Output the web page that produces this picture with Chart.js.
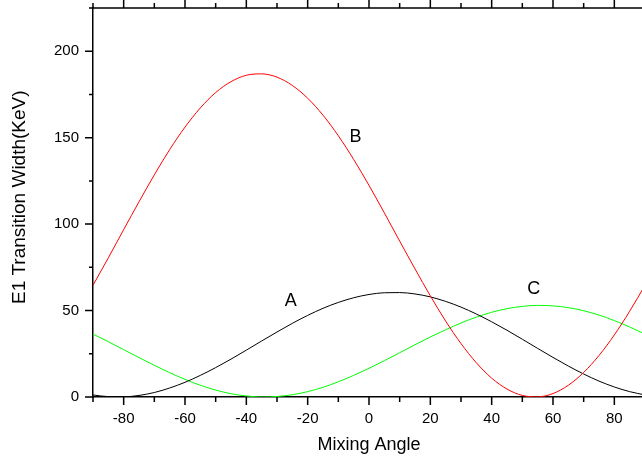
<!DOCTYPE html>
<html>
<head>
<meta charset="utf-8">
<script src="https://cdn.jsdelivr.net/npm/chart.js@4"></script>
<style>
  body { margin: 0; background: #fff; }
  #wrap { width: 642px; height: 456px; overflow: hidden; }
</style>
</head>
<body>
<div id="wrap"><canvas id="grafico" width="660" height="456"></canvas></div>
<script>
// angulos de mezcla (grados)
const angulos = [-90, -85, -80, -75, -70, -65, -60, -55, -50, -45, -40, -35, -30, -25, -20, -15, -10, -5, 0,
  5, 10, 15, 20, 25, 30, 35, 40, 45, 50, 55, 60, 65, 70, 75, 80, 85, 90];

// anchuras de transicion E1 (KeV)
const serieA = [1.2, 0.2, 0.1, 0.9, 2.6, 5.2, 8.5, 12.5, 17.0, 21.9, 27.1, 32.4, 37.6, 42.6, 47.2, 51.3, 54.7,
  57.4, 59.3, 60.3, 60.4, 59.6, 57.9, 55.3, 52.0, 48.0, 43.5, 38.6, 33.4, 28.1, 22.9, 17.9, 13.3, 9.2, 5.8, 3.1, 1.2];
const serieB = [64.6, 80.5, 96.8, 112.9, 128.5, 143.1, 156.1, 167.2, 176.1, 182.4, 186.1, 186.9, 185.0, 180.2,
  172.8, 163.0, 151.1, 137.4, 122.4, 106.5, 90.2, 74.1, 58.5, 43.9, 30.9, 19.8, 10.9, 4.6, 0.9, 0.1, 2.0, 6.8,
  14.2, 24.0, 35.9, 49.6, 64.6];
const serieC = [36.4, 32.0, 27.4, 22.8, 18.3, 14.1, 10.2, 6.8, 4.0, 1.9, 0.6, 0.0, 0.3, 1.3, 3.1, 5.6, 8.8, 12.5,
  16.6, 21.0, 25.6, 30.2, 34.7, 38.9, 42.8, 46.2, 49.0, 51.1, 52.4, 53.0, 52.7, 51.7, 49.9, 47.4, 44.2, 40.5, 36.4];

// etiquetas de curva: texto y posicion en datos
const etiquetas = ["A", "B", "C"];
const etiquetasX = [-25.5, -4.4, 53.7];
const etiquetasY = [55.3, 150.2, 62.5];

const fuente = "'Liberation Sans', Arial, sans-serif";

function puntos(serie) {
  return angulos.map((a, i) => ({ x: a, y: serie[i] }));
}

function linea(serie, color) {
  return {
    data: puntos(serie),
    borderColor: color,
    borderWidth: 1,
    pointRadius: 0,
    fill: false,
    cubicInterpolationMode: "monotone"
  };
}

// marcas de los ejes (mayores y menores) y eje superior
const marcasPlugin = {
  id: "marcas",
  afterDraw(chart) {
    const ctx = chart.ctx;
    const area = chart.chartArea;
    const x = chart.scales.x;
    const y = chart.scales.y;
    ctx.save();
    ctx.strokeStyle = "#000";
    ctx.lineWidth = 1.5;
    ctx.beginPath();
    ctx.moveTo(area.left, area.top);
    ctx.lineTo(area.right + 2, area.top);
    x.ticks.forEach(t => {
      const px = x.getPixelForValue(t.value);
      const largo = t.value % 20 === 0 ? 8 : 5;
      ctx.moveTo(px, area.bottom);
      ctx.lineTo(px, area.bottom + largo);
      ctx.moveTo(px, area.top);
      ctx.lineTo(px, area.top - largo);
    });
    y.ticks.forEach(t => {
      const py = y.getPixelForValue(t.value);
      const largo = t.value % 50 === 0 ? 8 : 4;
      ctx.moveTo(area.left, py);
      ctx.lineTo(area.left - largo, py);
    });
    ctx.stroke();

    ctx.fillStyle = "#000";
    ctx.font = "18px " + fuente;
    ctx.textAlign = "center";
    ctx.textBaseline = "middle";
    etiquetas.forEach((txt, i) => {
      ctx.fillText(txt, x.getPixelForValue(etiquetasX[i]), y.getPixelForValue(etiquetasY[i]));
    });
    ctx.restore();
  }
};

new Chart(document.getElementById("grafico"), {
  type: "line",
  data: {
    datasets: [
      linea(serieB, "#ff0000"),
      linea(serieA, "#000000"),
      linea(serieC, "#00ff00")
    ]
  },
  options: {
    responsive: false,
    animation: false,
    devicePixelRatio: 1,
    layout: { padding: { top: 8, right: 15, left: 0, bottom: 0 } },
    plugins: { legend: { display: false }, tooltip: { enabled: false } },
    scales: {
      x: {
        type: "linear",
        min: -90,
        max: 90,
        afterFit(s) {
          s.height = 59;
          s.paddingLeft = 0;
          s.paddingRight = 0;
        },
        grid: { display: false, drawTicks: false },
        border: { display: true, color: "#000", width: 1.5 },
        ticks: {
          stepSize: 10,
          autoSkip: false,
          maxRotation: 0,
          padding: 13,
          color: "#000",
          font: { size: 15, family: fuente },
          callback: v => (v % 20 === 0 ? v : "")
        },
        title: {
          display: true,
          text: "Mixing Angle",
          color: "#000",
          font: { size: 18, family: fuente },
          padding: { top: 0, bottom: 0 }
        }
      },
      y: {
        min: 0,
        max: 225,
        afterFit(s) {
          s.width = 93;
          s.paddingTop = 0;
          s.paddingBottom = 0;
        },
        grid: { display: false, drawTicks: false },
        border: { display: true, color: "#000", width: 1.5 },
        ticks: {
          stepSize: 25,
          autoSkip: false,
          padding: 14,
          color: "#000",
          font: { size: 15, family: fuente },
          callback: v => (v % 50 === 0 ? v : "")
        },
        title: {
          display: true,
          text: "  E1 Transition Width(KeV)",
          color: "#000",
          font: { size: 19, family: fuente },
          padding: { top: 8, bottom: 0 }
        }
      }
    }
  },
  plugins: [marcasPlugin]
});
</script>
</body>
</html>
